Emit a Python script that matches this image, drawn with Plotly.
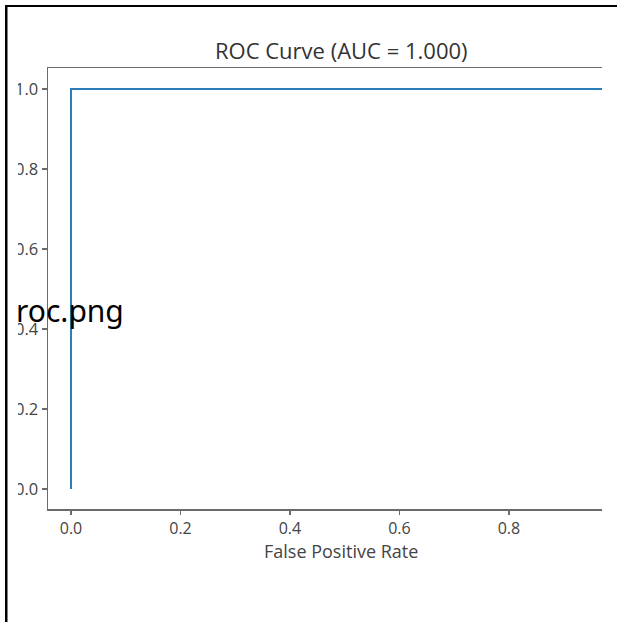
import plotly.graph_objects as go

# ROC data
fpr = [0.0, 0.0, 1.0]
tpr = [0.0, 1.0, 1.0]
auc_value = 1.000
x_ticks = [0.0, 0.2, 0.4, 0.6, 0.8, 1.0]
y_ticks = [0.0, 0.2, 0.4, 0.6, 0.8, 1.0]
x_tick_labels = ["0.0", "0.2", "0.4", "0.6", "0.8", "1.0"]
y_tick_labels = ["0.0", "0.2", "0.4", "0.6", "0.8", "1.0"]
x_title = "False Positive Rate"

W, H = 617, 622
L, R, T, B = 48, 15, 68, 113
pw, ph = W - L - R, H - T - B


def px(xp):
    return (xp - L) / pw


def py(yp):
    return (H - B - yp) / ph


spine = "#6b6b6b"
txt = "#333333"
font_fam = "Open Sans, DejaVu Sans, sans-serif"

fig = go.Figure()
fig.add_trace(go.Scatter(x=fpr, y=tpr, mode="lines",
                         line=dict(color="#2a7db8", width=2),
                         showlegend=False, hoverinfo="skip"))

fig.update_layout(
    width=W, height=H,
    margin=dict(l=L, r=R, t=T, b=B, pad=0),
    paper_bgcolor="white", plot_bgcolor="white",
    font=dict(family=font_fam, color=txt),
    xaxis=dict(range=[-0.042, 0.970], tickvals=x_ticks, ticktext=x_tick_labels,
               showgrid=False, zeroline=False, showline=True, mirror=True,
               linecolor=spine, linewidth=1.5, ticks="outside", ticklen=4,
               tickwidth=1.3, tickcolor=spine, tickfont=dict(size=16, color="#444")),
    yaxis=dict(range=[-0.05, 1.0525], tickvals=y_ticks, ticktext=y_tick_labels,
               showgrid=False, zeroline=False, showline=True, mirror=False,
               linecolor=spine, linewidth=1.5, ticks="outside", ticklen=5,
               tickwidth=1.3, tickcolor=spine, tickfont=dict(size=16.5, color="#444")),
)

# white cover to mimic the cropped left edge
fig.add_shape(type="rect", xref="paper", yref="paper", layer="above",
              x0=px(0), x1=px(18), y0=py(H), y1=py(0),
              fillcolor="white", line=dict(width=0))
# white cover for the top-right corner
fig.add_shape(type="rect", xref="paper", yref="paper", layer="above",
              x0=px(604), x1=px(W), y0=py(60), y1=py(7),
              fillcolor="white", line=dict(width=0))
# black frame lines (top and left)
fig.add_shape(type="rect", xref="paper", yref="paper", layer="above",
              x0=px(5), x1=px(W), y0=py(7), y1=py(5),
              fillcolor="black", line=dict(width=0))
fig.add_shape(type="rect", xref="paper", yref="paper", layer="above",
              x0=px(5), x1=px(7.5), y0=py(H), y1=py(5),
              fillcolor="black", line=dict(width=0))

fig.add_annotation(text=f"ROC Curve (AUC = {auc_value:.3f})", xref="paper", yref="paper",
                   x=px(341), y=py(50), xanchor="center", yanchor="middle",
                   showarrow=False, font=dict(size=22, color=txt, family=font_fam))
fig.add_annotation(text=x_title, xref="paper", yref="paper",
                   x=px(341), y=py(551), xanchor="center", yanchor="middle",
                   showarrow=False, font=dict(size=18, color="#444", family=font_fam))
fig.add_annotation(text="roc.png", xref="paper", yref="paper",
                   x=px(14), y=py(310), xanchor="left", yanchor="middle",
                   showarrow=False, font=dict(size=30, color="black",
                                              family="Noto Sans, sans-serif"))

fig.write_html("out.html", config={"displayModeBar": False, "staticPlot": True},
               post_script="document.body.style.margin='0';document.body.style.padding='0';")
